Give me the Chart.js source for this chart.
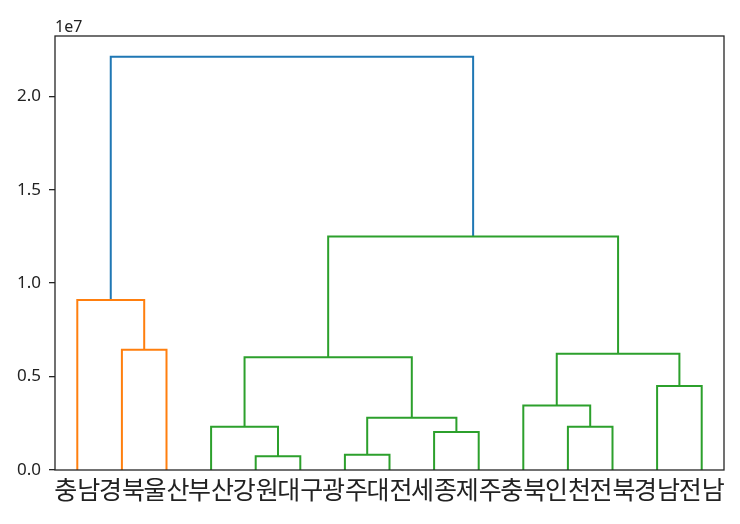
<!DOCTYPE html>
<html>
<head>
<meta charset="utf-8">
<script src="https://cdn.jsdelivr.net/npm/chart.js@4.4.1/dist/chart.umd.min.js"></script>
<style>
  html, body { margin: 0; padding: 0; background: #fff; }
  #wrap { width: 740px; height: 524px; }
</style>
</head>
<body>
<div id="wrap"><canvas id="c" width="740" height="524"></canvas></div>
<script>
// Leaf labels in dendrogram order
const leafLabels = ['충남','경북','울산','부산','강원','대구','광주','대전','세종','제주','충북','인천','전북','경남','전남'];
// Merges: [childA, childB, height]; ids < 15 are leaves, id 15+k is merge k
const mergeA = [4, 6, 8, 3, 11, 16, 10, 13, 18, 21, 1, 0, 23, 26];
const mergeB = [5, 7, 9, 15, 12, 17, 19, 14, 20, 22, 2, 25, 24, 27];
const mergeHeight = [0.073e7, 0.082e7, 0.204e7, 0.231e7, 0.231e7, 0.279e7, 0.345e7, 0.450e7, 0.604e7, 0.622e7, 0.644e7, 0.910e7, 1.250e7, 2.212e7];
const yTicks = [0, 0.5e7, 1.0e7, 1.5e7, 2.0e7];

const N = leafLabels.length;
const palette = ['#ff7f0e', '#2ca02c'];
const aboveColor = '#1f77b4';
const maxH = Math.max(...mergeHeight);
const threshold = 0.7 * maxH;

// positions
const xPos = {}, hPos = {};
for (let i = 0; i < N; i++) { xPos[i] = 5 + 10 * i; hPos[i] = 0; }
for (let k = 0; k < mergeA.length; k++) {
  const id = N + k;
  xPos[id] = (xPos[mergeA[k]] + xPos[mergeB[k]]) / 2;
  hPos[id] = mergeHeight[k];
}
// colors: assign each sub-threshold cluster top a palette color in left-to-right order
const linkColor = new Array(mergeA.length).fill(aboveColor);
let colorIdx = 0;
function paint(id, col) {
  if (id < N) return;
  const k = id - N;
  linkColor[k] = col;
  paint(mergeA[k], col); paint(mergeB[k], col);
}
function walk(id) {
  if (id < N) return;
  const k = id - N;
  if (mergeHeight[k] < threshold) {
    paint(id, palette[colorIdx % palette.length]); colorIdx++;
  } else {
    walk(mergeA[k]); walk(mergeB[k]);
  }
}
walk(N + mergeA.length - 1);

const datasets = [];
for (let k = 0; k < mergeA.length; k++) {
  const a = mergeA[k], b = mergeB[k], h = mergeHeight[k];
  datasets.push({
    data: [{x: xPos[a], y: hPos[a]}, {x: xPos[a], y: h}, {x: xPos[b], y: h}, {x: xPos[b], y: hPos[b]}],
    borderColor: linkColor[k],
    borderWidth: 2,
    showLine: true,
    pointRadius: 0,
    fill: false,
    tension: 0
  });
}

const frame = {
  id: 'frame',
  afterDraw(chart) {
    const {ctx, chartArea: a} = chart;
    ctx.save();
    ctx.strokeStyle = '#262626';
    ctx.lineWidth = 1.3;
    ctx.strokeRect(a.left, a.top, a.right - a.left, a.bottom - a.top);
    ctx.fillStyle = '#222';
    ctx.font = '16px "Noto Sans", "DejaVu Sans", sans-serif';
    ctx.textBaseline = 'alphabetic';
    ctx.textAlign = 'left';
    ctx.fillText('1e7', a.left, a.top - 4);
    ctx.restore();
  }
};

new Chart(document.getElementById('c'), {
  type: 'scatter',
  data: { datasets },
  options: {
    responsive: false,
    animation: false,
    layout: { padding: { top: 36, right: 16, left: 0, bottom: 0 } },
    plugins: { legend: { display: false }, tooltip: { enabled: false } },
    scales: {
      x: {
        type: 'linear', min: 0, max: N * 10,
        afterBuildTicks(scale) { scale.ticks = leafLabels.map((_, i) => ({ value: 5 + 10 * i })); },
        afterFit(scale) { scale.height = 54; },
        grid: { display: true, drawOnChartArea: false, drawTicks: false },
        border: { display: false },
        ticks: {
          autoSkip: false, maxRotation: 0, minRotation: 0, padding: 4,
          color: '#222',
          font: { family: '"Noto Sans CJK KR"', size: 25 },
          callback: (v) => leafLabels[Math.round((v - 5) / 10)]
        }
      },
      y: {
        min: 0, max: maxH * 1.05,
        afterBuildTicks(scale) { scale.ticks = yTicks.map(v => ({ value: v })); },
        afterFit(scale) { scale.width = 55; },
        grid: { display: true, drawOnChartArea: false, drawTicks: true, tickLength: 6, color: '#262626', lineWidth: 1.3 },
        border: { display: false },
        ticks: {
          padding: 8, color: '#222',
          font: { family: '"Noto Sans", "DejaVu Sans", sans-serif', size: 17 },
          callback: (v) => (v / 1e7).toFixed(1)
        }
      }
    }
  },
  plugins: [frame]
});
</script>
</body>
</html>
